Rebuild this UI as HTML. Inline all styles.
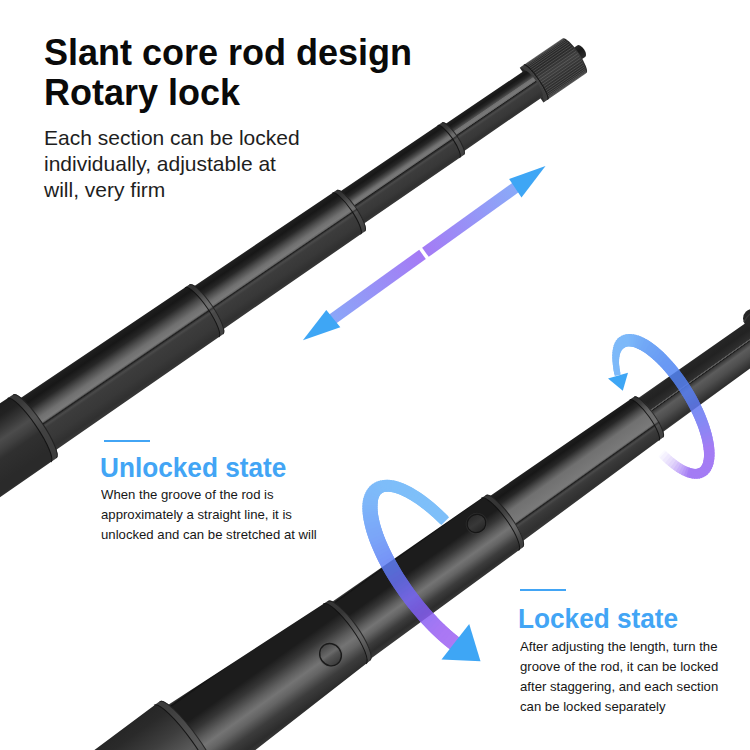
<!DOCTYPE html>
<html><head><meta charset="utf-8"><style>
html,body{margin:0;padding:0;background:#fff;}
body{width:750px;height:750px;position:relative;overflow:hidden;font-family:"Liberation Sans",sans-serif;}
.t{position:absolute;white-space:nowrap;}
#h1{left:44px;top:32.5px;font-size:36px;line-height:40px;font-weight:bold;color:#0a0a0a;}
#p1{left:44px;top:124.6px;font-size:21px;line-height:26.2px;color:#1e1e1e;}
.bl{position:absolute;height:2px;background:#42a5f5;}
.h2{font-size:27px;line-height:30px;font-weight:bold;color:#42a5f5;transform:scaleX(0.97);transform-origin:0 0;}
.p{font-size:13.6px;line-height:20px;color:#161616;transform:scaleX(0.968);transform-origin:0 0;}
</style></head><body>
<svg width="750" height="750" viewBox="0 0 750 750" style="position:absolute;left:0;top:0"><defs><linearGradient id="g1" gradientUnits="userSpaceOnUse" x1="0" y1="-9" x2="0" y2="5"><stop offset="0" stop-color="#2a2a2a"/><stop offset="0.4" stop-color="#1a1a1a"/><stop offset="1" stop-color="#2e2e2e"/></linearGradient><linearGradient id="g2" gradientUnits="userSpaceOnUse" x1="0" y1="-23" x2="0" y2="19"><stop offset="0" stop-color="#3a3a3a"/><stop offset="0.06" stop-color="#262626"/><stop offset="0.3" stop-color="#2c2c2c"/><stop offset="0.5" stop-color="#404040"/><stop offset="0.7" stop-color="#333333"/><stop offset="0.9" stop-color="#2a2a2a"/><stop offset="1" stop-color="#363636"/></linearGradient><linearGradient id="g3" gradientUnits="userSpaceOnUse" x1="0" y1="-18.5" x2="0" y2="14.5"><stop offset="0" stop-color="#2a2a2a"/><stop offset="0.03" stop-color="#1e1e1e"/><stop offset="0.12" stop-color="#171717"/><stop offset="0.22" stop-color="#272727"/><stop offset="0.32" stop-color="#4e4e4e"/><stop offset="0.34" stop-color="#707070"/><stop offset="0.42" stop-color="#7a7a7a"/><stop offset="0.46" stop-color="#666666"/><stop offset="0.48" stop-color="#1c1c1c"/><stop offset="0.52" stop-color="#3a3a3a"/><stop offset="0.55" stop-color="#4a4a4a"/><stop offset="0.62" stop-color="#3c3c3c"/><stop offset="0.8" stop-color="#383838"/><stop offset="0.93" stop-color="#303030"/><stop offset="1" stop-color="#383838"/></linearGradient><linearGradient id="g4" gradientUnits="userSpaceOnUse" x1="0" y1="-22" x2="0" y2="18"><stop offset="0" stop-color="#2a2a2a"/><stop offset="0.03" stop-color="#1e1e1e"/><stop offset="0.12" stop-color="#171717"/><stop offset="0.22" stop-color="#272727"/><stop offset="0.32" stop-color="#4e4e4e"/><stop offset="0.39" stop-color="#707070"/><stop offset="0.45" stop-color="#7a7a7a"/><stop offset="0.48" stop-color="#666666"/><stop offset="0.5" stop-color="#1c1c1c"/><stop offset="0.54" stop-color="#3a3a3a"/><stop offset="0.56" stop-color="#4a4a4a"/><stop offset="0.62" stop-color="#3c3c3c"/><stop offset="0.8" stop-color="#383838"/><stop offset="0.93" stop-color="#303030"/><stop offset="1" stop-color="#383838"/></linearGradient><linearGradient id="g5" gradientUnits="userSpaceOnUse" x1="0" y1="-26" x2="0" y2="26"><stop offset="0" stop-color="#2a2a2a"/><stop offset="0.03" stop-color="#1e1e1e"/><stop offset="0.12" stop-color="#171717"/><stop offset="0.22" stop-color="#272727"/><stop offset="0.32" stop-color="#4e4e4e"/><stop offset="0.42" stop-color="#707070"/><stop offset="0.49" stop-color="#7a7a7a"/><stop offset="0.52" stop-color="#666666"/><stop offset="0.54" stop-color="#1c1c1c"/><stop offset="0.56" stop-color="#3a3a3a"/><stop offset="0.58" stop-color="#4a4a4a"/><stop offset="0.63" stop-color="#3c3c3c"/><stop offset="0.8" stop-color="#383838"/><stop offset="0.93" stop-color="#303030"/><stop offset="1" stop-color="#383838"/></linearGradient><linearGradient id="g6" gradientUnits="userSpaceOnUse" x1="0" y1="-31.5" x2="0" y2="31.5"><stop offset="0" stop-color="#2a2a2a"/><stop offset="0.03" stop-color="#1e1e1e"/><stop offset="0.12" stop-color="#171717"/><stop offset="0.22" stop-color="#272727"/><stop offset="0.32" stop-color="#4e4e4e"/><stop offset="0.42" stop-color="#707070"/><stop offset="0.5" stop-color="#7a7a7a"/><stop offset="0.52" stop-color="#666666"/><stop offset="0.54" stop-color="#1c1c1c"/><stop offset="0.56" stop-color="#3a3a3a"/><stop offset="0.58" stop-color="#4a4a4a"/><stop offset="0.62" stop-color="#3c3c3c"/><stop offset="0.8" stop-color="#383838"/><stop offset="0.93" stop-color="#303030"/><stop offset="1" stop-color="#383838"/></linearGradient><linearGradient id="g7" gradientUnits="userSpaceOnUse" x1="0" y1="-40" x2="0" y2="40"><stop offset="0" stop-color="#2e2e2e"/><stop offset="0.03" stop-color="#1e1e1e"/><stop offset="0.15" stop-color="#222222"/><stop offset="0.3" stop-color="#3a3a3a"/><stop offset="0.4" stop-color="#4c4c4c"/><stop offset="0.5" stop-color="#404040"/><stop offset="0.6" stop-color="#303030"/><stop offset="0.85" stop-color="#2a2a2a"/><stop offset="0.96" stop-color="#2a2a2a"/><stop offset="1" stop-color="#363636"/></linearGradient><linearGradient id="g8" gradientUnits="userSpaceOnUse" x1="0" y1="-20.5" x2="0" y2="21.5"><stop offset="0" stop-color="#3a3a3a"/><stop offset="0.04" stop-color="#262626"/><stop offset="0.2" stop-color="#222222"/><stop offset="0.35" stop-color="#2c2c2c"/><stop offset="0.39" stop-color="#303030"/><stop offset="0.4" stop-color="#5a5a5a"/><stop offset="0.42" stop-color="#5a5a5a"/><stop offset="0.43" stop-color="#1a1a1a"/><stop offset="0.46" stop-color="#3a3a3a"/><stop offset="0.55" stop-color="#5c5c5c"/><stop offset="0.72" stop-color="#4e4e4e"/><stop offset="0.88" stop-color="#383838"/><stop offset="0.96" stop-color="#2e2e2e"/><stop offset="1" stop-color="#3c3c3c"/></linearGradient><linearGradient id="g9" gradientUnits="userSpaceOnUse" x1="0" y1="-27" x2="0" y2="29"><stop offset="0" stop-color="#2a2a2a"/><stop offset="0.03" stop-color="#1e1e1e"/><stop offset="0.12" stop-color="#171717"/><stop offset="0.22" stop-color="#272727"/><stop offset="0.32" stop-color="#4e4e4e"/><stop offset="0.42" stop-color="#707070"/><stop offset="0.64" stop-color="#7a7a7a"/><stop offset="0.66" stop-color="#666666"/><stop offset="0.68" stop-color="#1c1c1c"/><stop offset="0.7" stop-color="#3a3a3a"/><stop offset="0.72" stop-color="#4a4a4a"/><stop offset="0.76" stop-color="#3c3c3c"/><stop offset="0.8" stop-color="#383838"/><stop offset="0.93" stop-color="#303030"/><stop offset="1" stop-color="#383838"/></linearGradient><linearGradient id="g10" gradientUnits="userSpaceOnUse" x1="0" y1="-32.5" x2="0" y2="36.5"><stop offset="0" stop-color="#303030"/><stop offset="0.01" stop-color="#3a3a3a"/><stop offset="0.03" stop-color="#121212"/><stop offset="0.05" stop-color="#1c1c1c"/><stop offset="0.3" stop-color="#1c1c1c"/><stop offset="0.42" stop-color="#363636"/><stop offset="0.54" stop-color="#5e5e5e"/><stop offset="0.62" stop-color="#747474"/><stop offset="0.7" stop-color="#646464"/><stop offset="0.82" stop-color="#3c3c3c"/><stop offset="0.92" stop-color="#2c2c2c"/><stop offset="1" stop-color="#3a3a3a"/></linearGradient><linearGradient id="g11" gradientUnits="userSpaceOnUse" x1="0" y1="-44" x2="0" y2="46"><stop offset="0" stop-color="#303030"/><stop offset="0.01" stop-color="#3a3a3a"/><stop offset="0.03" stop-color="#121212"/><stop offset="0.05" stop-color="#1c1c1c"/><stop offset="0.28" stop-color="#1c1c1c"/><stop offset="0.4" stop-color="#363636"/><stop offset="0.52" stop-color="#5e5e5e"/><stop offset="0.6" stop-color="#747474"/><stop offset="0.68" stop-color="#646464"/><stop offset="0.8" stop-color="#3c3c3c"/><stop offset="0.92" stop-color="#2c2c2c"/><stop offset="1" stop-color="#3a3a3a"/></linearGradient><linearGradient id="g12" gradientUnits="userSpaceOnUse" x1="0" y1="-56" x2="0" y2="56"><stop offset="0" stop-color="#3a3a3a"/><stop offset="0.03" stop-color="#262626"/><stop offset="0.15" stop-color="#2a2a2a"/><stop offset="0.35" stop-color="#3e3e3e"/><stop offset="0.55" stop-color="#5a5a5a"/><stop offset="0.7" stop-color="#4a4a4a"/><stop offset="0.9" stop-color="#333333"/><stop offset="1" stop-color="#3a3a3a"/></linearGradient><linearGradient id="g13" gradientUnits="userSpaceOnUse" x1="0" y1="-1.8" x2="0" y2="21.2"><stop offset="0" stop-color="#444"/><stop offset="0.45" stop-color="#6a6a6a"/><stop offset="0.6" stop-color="#555"/><stop offset="1" stop-color="#3a3a3a"/></linearGradient><linearGradient id="g14" gradientUnits="userSpaceOnUse" x1="0" y1="-21.3" x2="0" y2="-3.3"><stop offset="0" stop-color="#2a2a2a"/><stop offset="0.5" stop-color="#383838"/><stop offset="1" stop-color="#262626"/></linearGradient><linearGradient id="dg" gradientUnits="userSpaceOnUse" x1="326" y1="318" x2="516" y2="188"><stop offset="0" stop-color="#8aa8f8"/><stop offset="0.5" stop-color="#a57af5"/><stop offset="1" stop-color="#8aaaf8"/></linearGradient></defs><g transform="translate(80,395.5) rotate(-34.3)"><path d="M599,-9 L608,-9 A3.5,7 0 0 1 608,5 L599,5 Z" fill="url(#g1)"/><path d="M548,-23 L600,-23 A5,21 0 0 1 600,19 L548,19 Z" fill="url(#g2)"/><g opacity="0.45"><line x1="555" y1="-22.82" x2="599.45" y2="-22.82" stroke="#8a8a8a" stroke-width="0.7"/><line x1="555" y1="-22.28" x2="600.09" y2="-22.28" stroke="#8a8a8a" stroke-width="0.7"/><line x1="555" y1="-21.4" x2="600.71" y2="-21.4" stroke="#8a8a8a" stroke-width="0.7"/><line x1="555" y1="-20.19" x2="601.3" y2="-20.19" stroke="#8a8a8a" stroke-width="0.7"/><line x1="555" y1="-18.66" x2="601.84" y2="-18.66" stroke="#8a8a8a" stroke-width="0.7"/><line x1="555" y1="-16.85" x2="602.34" y2="-16.85" stroke="#8a8a8a" stroke-width="0.7"/><line x1="555" y1="-14.78" x2="602.77" y2="-14.78" stroke="#8a8a8a" stroke-width="0.7"/><line x1="555" y1="-12.5" x2="603.13" y2="-12.5" stroke="#8a8a8a" stroke-width="0.7"/><line x1="555" y1="-10.04" x2="603.42" y2="-10.04" stroke="#8a8a8a" stroke-width="0.7"/><line x1="555" y1="-7.44" x2="603.63" y2="-7.44" stroke="#8a8a8a" stroke-width="0.7"/><line x1="555" y1="-4.74" x2="603.76" y2="-4.74" stroke="#8a8a8a" stroke-width="0.7"/><line x1="555" y1="-2" x2="603.8" y2="-2" stroke="#8a8a8a" stroke-width="0.7"/><line x1="555" y1="0.74" x2="603.76" y2="0.74" stroke="#8a8a8a" stroke-width="0.7"/><line x1="555" y1="3.44" x2="603.63" y2="3.44" stroke="#8a8a8a" stroke-width="0.7"/><line x1="555" y1="6.04" x2="603.42" y2="6.04" stroke="#8a8a8a" stroke-width="0.7"/><line x1="555" y1="8.5" x2="603.13" y2="8.5" stroke="#8a8a8a" stroke-width="0.7"/><line x1="555" y1="10.78" x2="602.77" y2="10.78" stroke="#8a8a8a" stroke-width="0.7"/><line x1="555" y1="12.85" x2="602.34" y2="12.85" stroke="#8a8a8a" stroke-width="0.7"/><line x1="555" y1="14.66" x2="601.84" y2="14.66" stroke="#8a8a8a" stroke-width="0.7"/><line x1="555" y1="16.19" x2="601.3" y2="16.19" stroke="#8a8a8a" stroke-width="0.7"/><line x1="555" y1="17.4" x2="600.71" y2="17.4" stroke="#8a8a8a" stroke-width="0.7"/><line x1="555" y1="18.28" x2="600.09" y2="18.28" stroke="#8a8a8a" stroke-width="0.7"/><line x1="555" y1="18.82" x2="599.45" y2="18.82" stroke="#8a8a8a" stroke-width="0.7"/></g><path d="M548,-23 A4,21 0 0 1 548,19 L553,19 A4,21 0 0 0 553,-23 Z" fill="#4a4a4a" opacity="0.6"/><path d="M553,-23 A4,21 0 0 1 553,19" fill="none" stroke="#151515" stroke-width="1"/><path d="M450,-18.5 L550,-18 A4,16 0 0 1 550,14 L450,14.5 Z" fill="url(#g3)"/><path d="M325,-22 L453,-21.5 A5,19.5 0 0 1 453,17.5 L325,18 Z" fill="url(#g4)"/><path d="M447.5,-21.52 A5,19.52 0 0 1 447.5,17.52 L453,17.5 A5,19.5 0 0 0 453,-21.5 Z" fill="#5e5e5e" opacity="0.38"/><path d="M447.5,-21.52 A5,19.52 0 0 1 447.5,17.52" fill="none" stroke="#101010" stroke-width="1" opacity="0.9"/><path d="M452.7,-21.2 A5,19.2 0 0 1 452.7,17.2" fill="none" stroke="#1a1a1a" stroke-width="1" opacity="0.8"/><path d="M150,-26 L328,-25 A6,25 0 0 1 328,25 L150,26 Z" fill="url(#g5)"/><path d="M322.5,-25.03 A6,25.03 0 0 1 322.5,25.03 L328,25 A6,25 0 0 0 328,-25 Z" fill="#5e5e5e" opacity="0.38"/><path d="M322.5,-25.03 A6,25.03 0 0 1 322.5,25.03" fill="none" stroke="#101010" stroke-width="1" opacity="0.9"/><path d="M327.7,-24.7 A6,24.7 0 0 1 327.7,24.7" fill="none" stroke="#1a1a1a" stroke-width="1" opacity="0.8"/><path d="M-58,-31.5 L153,-30 A7,30 0 0 1 153,30 L-58,31.5 Z" fill="url(#g6)"/><path d="M147.5,-30.04 A7,30.04 0 0 1 147.5,30.04 L153,30 A7,30 0 0 0 153,-30 Z" fill="#5e5e5e" opacity="0.38"/><path d="M147.5,-30.04 A7,30.04 0 0 1 147.5,30.04" fill="none" stroke="#101010" stroke-width="1" opacity="0.9"/><path d="M152.7,-29.7 A7,29.7 0 0 1 152.7,29.7" fill="none" stroke="#1a1a1a" stroke-width="1" opacity="0.8"/><path d="M-260,-40 L-54.5,-38.5 A8,38.5 0 0 1 -54.5,38.5 L-260,40 Z" fill="url(#g7)"/><path d="M-61.5,-38.55 A8,38.55 0 0 1 -61.5,38.55 L-54.5,38.5 A8,38.5 0 0 0 -54.5,-38.5 Z" fill="#5e5e5e" opacity="0.38"/><path d="M-61.5,-38.55 A8,38.55 0 0 1 -61.5,38.55" fill="none" stroke="#101010" stroke-width="1" opacity="0.9"/><path d="M-54.8,-38.2 A8,38.2 0 0 1 -54.8,38.2" fill="none" stroke="#1a1a1a" stroke-width="1" opacity="0.8"/></g><line x1="327.26" y1="322.8" x2="422.5" y2="254.37" stroke="url(#dg)" stroke-width="11.3"/><line x1="425.43" y1="252.27" x2="521.14" y2="183.5" stroke="url(#dg)" stroke-width="11.3"/><polygon points="545.5,166 509.1,179.1 521.5,197.5" fill="#3ea6f5"/><polygon points="302.9,340.3 326.3,309.9 340.3,327.2" fill="#3ea6f5"/><g transform="translate(348.5,629.9) rotate(-35.5)"><path d="M365,-20.5 L512,-19 A4,19.5 0 0 1 512,20 L365,21.5 Z" fill="url(#g8)"/><path d="M186,-27 L368,-24 A6,25 0 0 1 368,26 L186,29 Z" fill="url(#g9)"/><path d="M362.5,-24.09 A6,25.09 0 0 1 362.5,26.09 L368,26 A6,25 0 0 0 368,-24 Z" fill="#5e5e5e" opacity="0.38"/><path d="M362.5,-24.09 A6,25.09 0 0 1 362.5,26.09" fill="none" stroke="#101010" stroke-width="1" opacity="0.9"/><path d="M367.7,-23.7 A6,24.7 0 0 1 367.7,25.7" fill="none" stroke="#1a1a1a" stroke-width="1" opacity="0.8"/><path d="M-3,-32.5 L190,-30 A8,32 0 0 1 190,34 L-3,36.5 Z" fill="url(#g10)"/><path d="M184.5,-30.07 A8,32.07 0 0 1 184.5,34.07 L190,34 A8,32 0 0 0 190,-30 Z" fill="#5e5e5e" opacity="0.38"/><path d="M184.5,-30.07 A8,32.07 0 0 1 184.5,34.07" fill="none" stroke="#101010" stroke-width="1" opacity="0.9"/><path d="M189.7,-29.7 A8,31.7 0 0 1 189.7,33.7" fill="none" stroke="#1a1a1a" stroke-width="1" opacity="0.8"/><path d="M-198,-44 L0,-35.5 A9,36.5 0 0 1 0,37.5 L-198,46 Z" fill="url(#g11)"/><path d="M-5.5,-35.74 A9,36.74 0 0 1 -5.5,37.74 L0,37.5 A9,36.5 0 0 0 0,-35.5 Z" fill="#5e5e5e" opacity="0.38"/><path d="M-5.5,-35.74 A9,36.74 0 0 1 -5.5,37.74" fill="none" stroke="#101010" stroke-width="1" opacity="0.9"/><path d="M-0.3,-35.2 A9,36.2 0 0 1 -0.3,37.2" fill="none" stroke="#1a1a1a" stroke-width="1" opacity="0.8"/><path d="M-420,-46.7 L-195,-51.5 A10,51.5 0 0 1 -195,51.5 L-420,65.3 Z" fill="url(#g12)"/><path d="M-202,-51.64 A10,51.64 0 0 1 -202,51.64 L-195,51.5 A10,51.5 0 0 0 -195,-51.5 Z" fill="#5e5e5e" opacity="0.38"/><path d="M-202,-51.64 A10,51.64 0 0 1 -202,51.64" fill="none" stroke="#101010" stroke-width="1" opacity="0.9"/><path d="M-195.3,-51.2 A10,51.2 0 0 1 -195.3,51.2" fill="none" stroke="#1a1a1a" stroke-width="1" opacity="0.8"/><ellipse cx="-29" cy="9.7" rx="12.3" ry="13.3" fill="#5a5a5a" opacity="0.35"/><ellipse cx="-29" cy="9.7" rx="10.5" ry="11.5" fill="url(#g13)" stroke="#1a1a1a" stroke-width="1.4"/><ellipse cx="166" cy="-12.3" rx="11" ry="10.5" fill="#4a4a4a" opacity="0.3"/><ellipse cx="166" cy="-12.3" rx="9.5" ry="9" fill="url(#g14)" stroke="#161616" stroke-width="1.2"/></g><ellipse cx="752.5" cy="318.5" rx="9.5" ry="9.5" fill="#262626"/><path d="M744,322 Q748,313 756,311" fill="none" stroke="#3a3a3a" stroke-width="1.2"/><g opacity="0.85"><line x1="661.61" y1="453.24" x2="665.64" y2="457.23" stroke="#fbfaff" stroke-width="9.03"/><line x1="662.82" y1="454.47" x2="668.24" y2="459.62" stroke="#f4f0fe" stroke-width="9.09"/><line x1="665.43" y1="457.03" x2="670.83" y2="461.85" stroke="#ede6fd" stroke-width="9.15"/><line x1="668.03" y1="459.43" x2="673.39" y2="463.9" stroke="#e6dbfc" stroke-width="9.2"/><line x1="670.62" y1="461.67" x2="675.92" y2="465.78" stroke="#dfd1fb" stroke-width="9.26"/><line x1="673.19" y1="463.74" x2="678.4" y2="467.48" stroke="#d5c2fa" stroke-width="9.32"/><line x1="675.71" y1="465.64" x2="680.83" y2="468.98" stroke="#cbb3f9" stroke-width="9.38"/><line x1="678.2" y1="467.35" x2="683.21" y2="470.3" stroke="#c0a4f8" stroke-width="9.44"/><line x1="680.64" y1="468.87" x2="685.53" y2="471.41" stroke="#b696f7" stroke-width="9.5"/><line x1="683.02" y1="470.2" x2="687.77" y2="472.33" stroke="#ac87f6" stroke-width="9.56"/><line x1="685.34" y1="471.33" x2="689.93" y2="473.04" stroke="#a178f4" stroke-width="9.61"/><line x1="687.59" y1="472.26" x2="692.01" y2="473.54" stroke="#9769f3" stroke-width="9.67"/><line x1="689.76" y1="472.99" x2="693.99" y2="473.84" stroke="#9566f3" stroke-width="9.73"/><line x1="691.84" y1="473.51" x2="695.88" y2="473.93" stroke="#9566f3" stroke-width="9.79"/><line x1="693.83" y1="473.82" x2="697.66" y2="473.81" stroke="#9566f3" stroke-width="9.85"/><line x1="695.73" y1="473.93" x2="699.33" y2="473.48" stroke="#9566f3" stroke-width="9.91"/><line x1="697.52" y1="473.82" x2="700.89" y2="472.94" stroke="#9566f3" stroke-width="9.96"/><line x1="699.2" y1="473.51" x2="702.33" y2="472.2" stroke="#9566f3" stroke-width="10.02"/><line x1="700.77" y1="472.99" x2="703.64" y2="471.25" stroke="#9566f3" stroke-width="10.06"/><line x1="702.22" y1="472.27" x2="704.82" y2="470.11" stroke="#9566f3" stroke-width="10.1"/><line x1="703.54" y1="471.34" x2="705.88" y2="468.76" stroke="#9566f3" stroke-width="10.15"/><line x1="704.73" y1="470.21" x2="706.8" y2="467.23" stroke="#9566f3" stroke-width="10.19"/><line x1="705.8" y1="468.88" x2="707.57" y2="465.5" stroke="#9566f3" stroke-width="10.23"/><line x1="706.73" y1="467.36" x2="708.21" y2="463.6" stroke="#9566f3" stroke-width="10.27"/><line x1="707.52" y1="465.65" x2="708.71" y2="461.51" stroke="#9566f3" stroke-width="10.32"/><line x1="708.17" y1="463.76" x2="709.06" y2="459.26" stroke="#9566f3" stroke-width="10.36"/><line x1="708.67" y1="461.69" x2="709.27" y2="456.85" stroke="#9566f3" stroke-width="10.4"/><line x1="709.04" y1="459.45" x2="709.33" y2="454.27" stroke="#9566f3" stroke-width="10.44"/><line x1="709.26" y1="457.04" x2="709.24" y2="451.55" stroke="#9566f3" stroke-width="10.49"/><line x1="709.33" y1="454.49" x2="709.01" y2="448.7" stroke="#9566f3" stroke-width="10.54"/><line x1="709.26" y1="451.78" x2="708.63" y2="445.71" stroke="#9566f3" stroke-width="10.6"/><line x1="709.04" y1="448.93" x2="708.11" y2="442.6" stroke="#9566f3" stroke-width="10.67"/><line x1="708.67" y1="445.95" x2="707.45" y2="439.38" stroke="#9068f3" stroke-width="10.73"/><line x1="708.16" y1="442.85" x2="706.65" y2="436.06" stroke="#8b6af3" stroke-width="10.79"/><line x1="707.51" y1="439.64" x2="705.71" y2="432.65" stroke="#866cf3" stroke-width="10.85"/><line x1="706.72" y1="436.33" x2="704.63" y2="429.15" stroke="#816ef3" stroke-width="10.91"/><line x1="705.79" y1="432.92" x2="703.42" y2="425.59" stroke="#7c70f3" stroke-width="10.98"/><line x1="704.72" y1="429.44" x2="702.09" y2="421.97" stroke="#7772f3" stroke-width="11.04"/><line x1="703.53" y1="425.88" x2="700.63" y2="418.31" stroke="#7374f3" stroke-width="11.1"/><line x1="702.2" y1="422.26" x2="699.05" y2="414.61" stroke="#6f75f3" stroke-width="11.16"/><line x1="700.75" y1="418.6" x2="697.36" y2="410.88" stroke="#6c77f3" stroke-width="11.22"/><line x1="699.18" y1="414.9" x2="695.56" y2="407.14" stroke="#6878f3" stroke-width="11.28"/><line x1="697.5" y1="411.18" x2="693.66" y2="403.41" stroke="#647af3" stroke-width="11.35"/><line x1="695.71" y1="407.44" x2="691.66" y2="399.68" stroke="#607bf3" stroke-width="11.41"/><line x1="693.81" y1="403.71" x2="689.57" y2="395.98" stroke="#5c7cf3" stroke-width="11.47"/><line x1="691.82" y1="399.98" x2="687.39" y2="392.31" stroke="#5a7ef3" stroke-width="11.52"/><line x1="689.74" y1="396.27" x2="685.14" y2="388.68" stroke="#597ff3" stroke-width="11.56"/><line x1="687.57" y1="392.6" x2="682.81" y2="385.12" stroke="#5880f3" stroke-width="11.59"/><line x1="685.32" y1="388.97" x2="680.42" y2="381.62" stroke="#5781f3" stroke-width="11.63"/><line x1="683" y1="385.4" x2="677.98" y2="378.2" stroke="#5682f3" stroke-width="11.67"/><line x1="680.62" y1="381.9" x2="675.49" y2="374.87" stroke="#5583f3" stroke-width="11.7"/><line x1="678.18" y1="378.47" x2="672.95" y2="371.65" stroke="#5484f3" stroke-width="11.74"/><line x1="675.69" y1="375.14" x2="670.39" y2="368.53" stroke="#5385f3" stroke-width="11.78"/><line x1="673.16" y1="371.9" x2="667.8" y2="365.53" stroke="#5286f3" stroke-width="11.81"/><line x1="670.6" y1="368.77" x2="665.19" y2="362.66" stroke="#5187f3" stroke-width="11.85"/><line x1="668.01" y1="365.76" x2="662.58" y2="359.93" stroke="#5088f3" stroke-width="11.89"/><line x1="665.4" y1="362.88" x2="659.96" y2="357.35" stroke="#5189f3" stroke-width="11.93"/><line x1="662.79" y1="360.14" x2="657.36" y2="354.92" stroke="#528cf3" stroke-width="11.96"/><line x1="660.17" y1="357.55" x2="654.77" y2="352.65" stroke="#538ef4" stroke-width="12"/><line x1="657.56" y1="355.11" x2="652.2" y2="350.56" stroke="#5490f4" stroke-width="12.04"/><line x1="654.97" y1="352.83" x2="649.66" y2="348.64" stroke="#5592f4" stroke-width="12.09"/><line x1="652.4" y1="350.72" x2="647.17" y2="346.9" stroke="#5694f4" stroke-width="12.13"/><line x1="649.86" y1="348.78" x2="644.72" y2="345.35" stroke="#5796f4" stroke-width="12.17"/><line x1="647.37" y1="347.03" x2="642.33" y2="343.99" stroke="#5998f5" stroke-width="12.21"/><line x1="644.92" y1="345.46" x2="640" y2="342.83" stroke="#5a9af5" stroke-width="12.26"/><line x1="642.52" y1="344.09" x2="637.74" y2="341.87" stroke="#5b9df5" stroke-width="12.3"/><line x1="640.19" y1="342.91" x2="635.56" y2="341.11" stroke="#5d9ff6" stroke-width="12.34"/><line x1="637.92" y1="341.94" x2="633.47" y2="340.56" stroke="#5fa2f6" stroke-width="12.38"/><line x1="635.73" y1="341.16" x2="631.46" y2="340.21" stroke="#61a4f7" stroke-width="12.43"/><line x1="633.63" y1="340.59" x2="629.55" y2="340.08" stroke="#62a7f8" stroke-width="12.47"/><line x1="631.62" y1="340.23" x2="627.74" y2="340.15" stroke="#64a9f8" stroke-width="12.44"/><line x1="629.7" y1="340.08" x2="626.04" y2="340.43" stroke="#66acf9" stroke-width="12.26"/><line x1="627.88" y1="340.13" x2="624.46" y2="340.92" stroke="#67adf9" stroke-width="12.07"/><line x1="626.18" y1="340.4" x2="622.99" y2="341.61" stroke="#67adf9" stroke-width="11.89"/><line x1="624.58" y1="340.87" x2="621.65" y2="342.51" stroke="#67adf9" stroke-width="11.7"/><line x1="623.11" y1="341.55" x2="620.44" y2="343.61" stroke="#67adf9" stroke-width="11.52"/><line x1="621.75" y1="342.43" x2="619.35" y2="344.91" stroke="#67adf9" stroke-width="10.92"/><line x1="620.53" y1="343.52" x2="618.4" y2="346.4" stroke="#67adf9" stroke-width="10.27"/><line x1="619.44" y1="344.8" x2="617.59" y2="348.08" stroke="#67adf9" stroke-width="9.62"/><line x1="618.48" y1="346.27" x2="616.92" y2="349.95" stroke="#67adf9" stroke-width="8.97"/><line x1="617.65" y1="347.94" x2="616.39" y2="351.99" stroke="#67adf9" stroke-width="8.32"/><line x1="616.97" y1="349.79" x2="616.01" y2="354.2" stroke="#67adf9" stroke-width="7.81"/><line x1="616.43" y1="351.82" x2="615.77" y2="356.58" stroke="#67adf9" stroke-width="7.43"/><line x1="616.03" y1="354.02" x2="615.67" y2="359.12" stroke="#67adf9" stroke-width="7.06"/><line x1="615.78" y1="356.39" x2="615.72" y2="361.81" stroke="#67adf9" stroke-width="6.68"/><line x1="615.67" y1="358.91" x2="615.92" y2="364.63" stroke="#67adf9" stroke-width="6.3"/><line x1="615.72" y1="361.59" x2="616.27" y2="367.59" stroke="#67adf9" stroke-width="6.23"/><line x1="615.9" y1="364.4" x2="616.75" y2="370.67" stroke="#67adf9" stroke-width="6.17"/><line x1="616.23" y1="367.35" x2="617.38" y2="373.87" stroke="#67adf9" stroke-width="6.1"/><line x1="616.71" y1="370.42" x2="617.72" y2="375.38" stroke="#67adf9" stroke-width="6.03"/></g><polygon points="608,378.5 628,372.8 622.8,390.8" fill="#3ea6f5"/><g opacity="0.85"><line x1="445.23" y1="521.15" x2="441.05" y2="517.03" stroke="#68b5f9" stroke-width="11.02"/><line x1="443.98" y1="519.9" x2="438.33" y2="514.46" stroke="#68b5f9" stroke-width="11.06"/><line x1="441.27" y1="517.24" x2="435.62" y2="511.99" stroke="#68b5f9" stroke-width="11.09"/><line x1="438.55" y1="514.67" x2="432.91" y2="509.6" stroke="#68b5f9" stroke-width="11.13"/><line x1="435.83" y1="512.18" x2="430.21" y2="507.31" stroke="#68b4f9" stroke-width="11.17"/><line x1="433.12" y1="509.79" x2="427.52" y2="505.12" stroke="#68b4f9" stroke-width="11.2"/><line x1="430.42" y1="507.49" x2="424.86" y2="503.03" stroke="#68b4f9" stroke-width="11.24"/><line x1="427.74" y1="505.29" x2="422.22" y2="501.05" stroke="#68b4f9" stroke-width="11.28"/><line x1="425.07" y1="503.19" x2="419.6" y2="499.18" stroke="#68b4f9" stroke-width="11.31"/><line x1="422.43" y1="501.2" x2="417.01" y2="497.42" stroke="#68b4f9" stroke-width="11.35"/><line x1="419.81" y1="499.32" x2="414.46" y2="495.77" stroke="#68b4f9" stroke-width="11.39"/><line x1="417.22" y1="497.56" x2="411.95" y2="494.25" stroke="#68b4f9" stroke-width="11.43"/><line x1="414.67" y1="495.9" x2="409.48" y2="492.84" stroke="#68b4f9" stroke-width="11.46"/><line x1="412.15" y1="494.36" x2="407.05" y2="491.55" stroke="#68b4f9" stroke-width="11.5"/><line x1="409.68" y1="492.95" x2="404.68" y2="490.39" stroke="#68b3f9" stroke-width="11.54"/><line x1="407.25" y1="491.65" x2="402.36" y2="489.35" stroke="#68b3f9" stroke-width="11.57"/><line x1="404.87" y1="490.48" x2="400.09" y2="488.44" stroke="#68b3f9" stroke-width="11.61"/><line x1="402.54" y1="489.43" x2="397.89" y2="487.66" stroke="#68b3f9" stroke-width="11.65"/><line x1="400.27" y1="488.51" x2="395.74" y2="487" stroke="#68b3f9" stroke-width="11.69"/><line x1="398.06" y1="487.71" x2="393.67" y2="486.48" stroke="#68b3f9" stroke-width="11.72"/><line x1="395.91" y1="487.05" x2="391.66" y2="486.09" stroke="#68b3f9" stroke-width="11.76"/><line x1="393.83" y1="486.52" x2="389.73" y2="485.83" stroke="#68b3f9" stroke-width="11.8"/><line x1="391.82" y1="486.11" x2="387.87" y2="485.7" stroke="#68b2f9" stroke-width="11.83"/><line x1="389.88" y1="485.84" x2="386.09" y2="485.71" stroke="#68b2f9" stroke-width="11.87"/><line x1="388.02" y1="485.71" x2="384.39" y2="485.84" stroke="#68b2f9" stroke-width="11.91"/><line x1="386.23" y1="485.7" x2="382.78" y2="486.11" stroke="#68b2f9" stroke-width="11.94"/><line x1="384.53" y1="485.83" x2="381.25" y2="486.51" stroke="#68b2f9" stroke-width="11.98"/><line x1="382.91" y1="486.09" x2="379.81" y2="487.05" stroke="#68b2f9" stroke-width="12.11"/><line x1="381.37" y1="486.48" x2="378.46" y2="487.71" stroke="#68b1f9" stroke-width="12.33"/><line x1="379.92" y1="487" x2="377.21" y2="488.5" stroke="#68b1f9" stroke-width="12.56"/><line x1="378.57" y1="487.65" x2="376.05" y2="489.42" stroke="#68b0f9" stroke-width="12.78"/><line x1="377.3" y1="488.43" x2="374.98" y2="490.47" stroke="#68b0f9" stroke-width="13"/><line x1="376.14" y1="489.34" x2="374.01" y2="491.64" stroke="#68aff9" stroke-width="13.22"/><line x1="375.06" y1="490.38" x2="373.15" y2="492.94" stroke="#68aef9" stroke-width="13.44"/><line x1="374.09" y1="491.54" x2="372.38" y2="494.36" stroke="#68aef9" stroke-width="13.67"/><line x1="373.21" y1="492.83" x2="371.71" y2="495.89" stroke="#68adf9" stroke-width="13.89"/><line x1="372.44" y1="494.24" x2="371.15" y2="497.55" stroke="#68adf9" stroke-width="14.11"/><line x1="371.76" y1="495.76" x2="370.69" y2="499.31" stroke="#68acf9" stroke-width="14.33"/><line x1="371.19" y1="497.41" x2="370.34" y2="501.19" stroke="#68acf9" stroke-width="14.56"/><line x1="370.73" y1="499.17" x2="370.09" y2="503.18" stroke="#68abf9" stroke-width="14.78"/><line x1="370.36" y1="501.04" x2="369.95" y2="505.28" stroke="#68aaf9" stroke-width="15"/><line x1="370.11" y1="503.02" x2="369.91" y2="507.48" stroke="#68aaf9" stroke-width="15.02"/><line x1="369.96" y1="505.11" x2="369.98" y2="509.77" stroke="#68a8f9" stroke-width="15.04"/><line x1="369.91" y1="507.3" x2="370.15" y2="512.17" stroke="#67a7f9" stroke-width="15.07"/><line x1="369.97" y1="509.59" x2="370.43" y2="514.65" stroke="#67a5f9" stroke-width="15.09"/><line x1="370.13" y1="511.97" x2="370.81" y2="517.23" stroke="#67a3f8" stroke-width="15.11"/><line x1="370.4" y1="514.45" x2="371.3" y2="519.89" stroke="#66a2f8" stroke-width="15.13"/><line x1="370.78" y1="517.02" x2="371.89" y2="522.63" stroke="#66a0f8" stroke-width="15.16"/><line x1="371.26" y1="519.67" x2="372.59" y2="525.44" stroke="#669ff8" stroke-width="15.18"/><line x1="371.84" y1="522.4" x2="373.38" y2="528.33" stroke="#659df8" stroke-width="15.2"/><line x1="372.53" y1="525.22" x2="374.28" y2="531.29" stroke="#659cf8" stroke-width="15.22"/><line x1="373.31" y1="528.1" x2="375.27" y2="534.31" stroke="#659af7" stroke-width="15.24"/><line x1="374.2" y1="531.05" x2="376.37" y2="537.39" stroke="#6498f7" stroke-width="15.27"/><line x1="375.19" y1="534.07" x2="377.55" y2="540.52" stroke="#6497f7" stroke-width="15.29"/><line x1="376.27" y1="537.14" x2="378.84" y2="543.71" stroke="#6495f7" stroke-width="15.31"/><line x1="377.46" y1="540.27" x2="380.21" y2="546.93" stroke="#6392f7" stroke-width="15.33"/><line x1="378.73" y1="543.45" x2="381.68" y2="550.2" stroke="#638ff6" stroke-width="15.36"/><line x1="380.1" y1="546.67" x2="383.23" y2="553.5" stroke="#628cf6" stroke-width="15.38"/><line x1="381.56" y1="549.94" x2="384.87" y2="556.84" stroke="#628af6" stroke-width="15.4"/><line x1="383.1" y1="553.24" x2="386.59" y2="560.19" stroke="#6187f6" stroke-width="15.42"/><line x1="384.73" y1="556.57" x2="388.39" y2="563.57" stroke="#6084f6" stroke-width="15.44"/><line x1="386.45" y1="559.92" x2="390.27" y2="566.96" stroke="#6081f5" stroke-width="15.47"/><line x1="388.24" y1="563.3" x2="392.22" y2="570.36" stroke="#5f7ef5" stroke-width="15.49"/><line x1="390.12" y1="566.69" x2="394.25" y2="573.77" stroke="#607cf5" stroke-width="15.49"/><line x1="392.06" y1="570.09" x2="396.34" y2="577.18" stroke="#6279f5" stroke-width="15.47"/><line x1="394.08" y1="573.5" x2="398.51" y2="580.58" stroke="#6576f5" stroke-width="15.45"/><line x1="396.17" y1="576.9" x2="400.73" y2="583.96" stroke="#6773f4" stroke-width="15.44"/><line x1="398.33" y1="580.3" x2="403.01" y2="587.34" stroke="#6970f4" stroke-width="15.42"/><line x1="400.55" y1="583.69" x2="405.35" y2="590.69" stroke="#6c6ef4" stroke-width="15.4"/><line x1="402.83" y1="587.07" x2="407.74" y2="594.01" stroke="#6e6bf4" stroke-width="15.38"/><line x1="405.16" y1="590.42" x2="410.18" y2="597.31" stroke="#7068f4" stroke-width="15.36"/><line x1="407.54" y1="593.75" x2="412.66" y2="600.56" stroke="#7365f3" stroke-width="15.34"/><line x1="409.98" y1="597.04" x2="415.18" y2="603.78" stroke="#7563f3" stroke-width="15.32"/><line x1="412.46" y1="600.3" x2="417.74" y2="606.95" stroke="#7760f3" stroke-width="15.31"/><line x1="414.98" y1="603.52" x2="420.34" y2="610.07" stroke="#7a5ff3" stroke-width="15.29"/><line x1="417.54" y1="606.7" x2="422.96" y2="613.13" stroke="#7e5ff3" stroke-width="15.27"/><line x1="420.13" y1="609.82" x2="425.61" y2="616.14" stroke="#825ff3" stroke-width="15.25"/><line x1="422.75" y1="612.89" x2="428.28" y2="619.07" stroke="#855ff3" stroke-width="15.23"/><line x1="425.4" y1="615.9" x2="430.97" y2="621.94" stroke="#895ff3" stroke-width="15.21"/><line x1="428.07" y1="618.84" x2="433.67" y2="624.74" stroke="#8c60f3" stroke-width="15.19"/><line x1="430.76" y1="621.72" x2="436.38" y2="627.46" stroke="#9060f3" stroke-width="15.18"/><line x1="433.46" y1="624.52" x2="439.1" y2="630.09" stroke="#9360f3" stroke-width="15.16"/><line x1="436.17" y1="627.24" x2="441.82" y2="632.64" stroke="#9760f3" stroke-width="15.14"/><line x1="438.88" y1="629.89" x2="444.53" y2="635.1" stroke="#9a60f3" stroke-width="15.12"/><line x1="441.6" y1="632.44" x2="447.24" y2="637.47" stroke="#9c61f3" stroke-width="15.1"/><line x1="444.32" y1="634.91" x2="449.94" y2="639.74" stroke="#9c61f3" stroke-width="15.08"/><line x1="447.02" y1="637.29" x2="452.62" y2="641.91" stroke="#9d62f3" stroke-width="15.06"/><line x1="449.72" y1="639.56" x2="455.28" y2="643.98" stroke="#9e62f3" stroke-width="15.05"/><line x1="452.4" y1="641.74" x2="457.91" y2="645.94" stroke="#9f63f3" stroke-width="15.03"/><line x1="455.06" y1="643.82" x2="459.12" y2="646.8" stroke="#a064f3" stroke-width="15.01"/></g><polygon points="469.2,624.1 441.5,659.6 480.5,661.3" fill="#3ea6f5"/></svg>
<div class="t" id="h1">Slant core rod design<br>Rotary lock</div>
<div class="t" id="p1">Each section can be locked<br>individually, adjustable at<br>will, very firm</div>
<div class="bl" style="left:104px;top:440px;width:46px"></div>
<div class="t h2" style="left:99.8px;top:452.7px">Unlocked state</div>
<div class="t p" style="left:101px;top:484.9px">When the groove of the rod is<br>approximately a straight line, it is<br>unlocked and can be stretched at will</div>
<div class="bl" style="left:520px;top:588.5px;width:46px"></div>
<div class="t h2" style="left:518px;top:604px">Locked state</div>
<div class="t p" style="left:520px;top:637.1px">After adjusting the length, turn the<br>groove of the rod, it can be locked<br>after staggering, and each section<br>can be locked separately</div>
</body></html>
